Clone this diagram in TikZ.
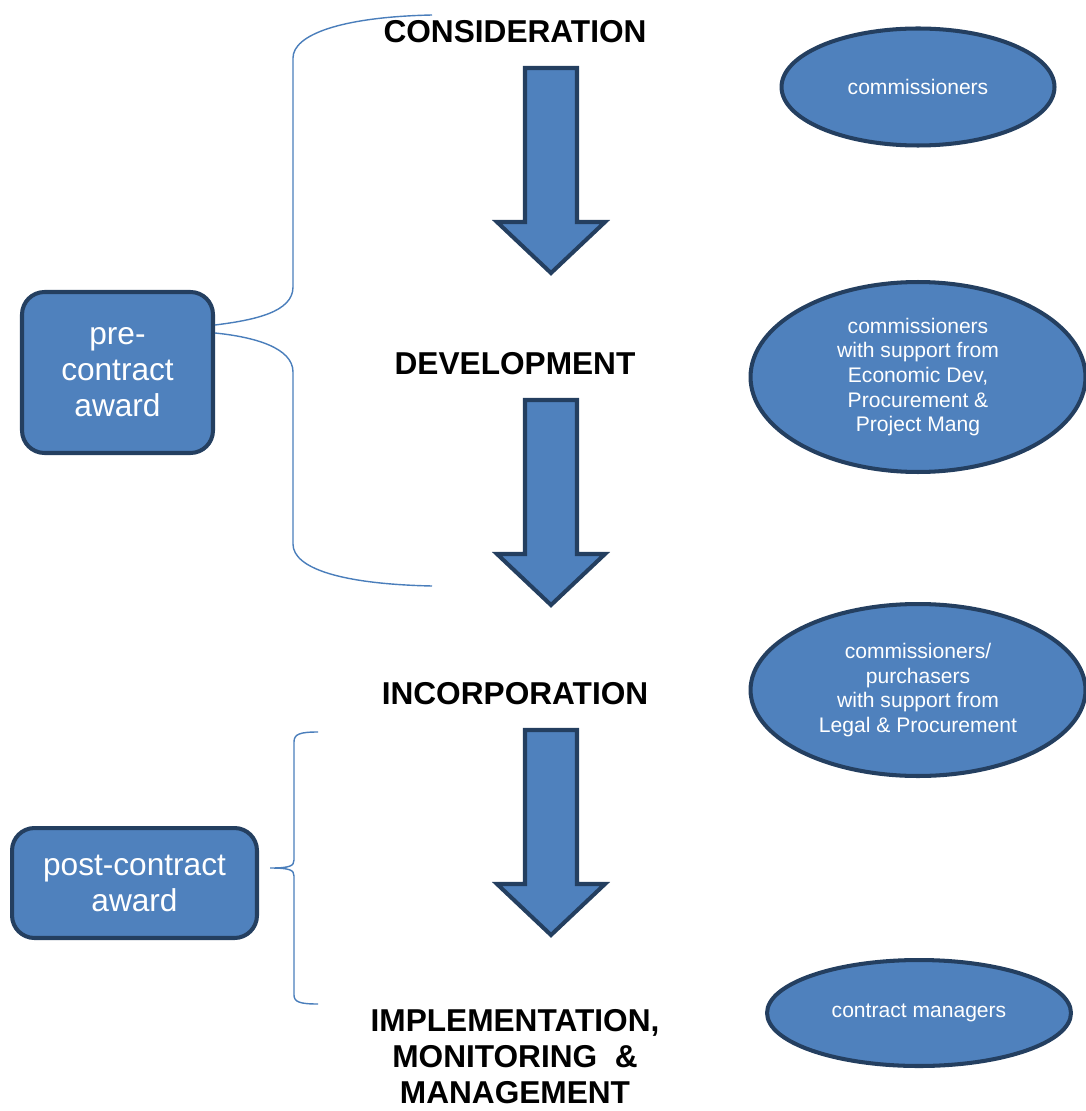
\documentclass[tikz,border=0pt]{standalone}
\usepackage{fontspec}
\setmainfont{Liberation Sans}
\usetikzlibrary{shapes.geometric,positioning}
\definecolor{boxblue}{HTML}{4F81BD}
\definecolor{edgeblue}{HTML}{243F60}
\definecolor{linkblue}{HTML}{4A7EBB}

\begin{document}
\begin{tikzpicture}[x=0.02cm,y=-0.02cm,
   stage/.style={font=\fontsize{18}{20.5}\selectfont\bfseries,align=center,inner sep=0pt},
   party/.style={ellipse,draw=edgeblue,fill=boxblue,line width=2.3pt,text=white,
      inner sep=0pt,align=center,font=\fontsize{12}{14}\selectfont},
   award/.style={rectangle,rounded corners=0.45cm,draw=edgeblue,fill=boxblue,line width=2.3pt,
      text=white,inner sep=0pt,align=center,font=\fontsize{18}{20.5}\selectfont},
   downarrow/.style={draw=edgeblue,fill=boxblue,line width=2.3pt},
   bracelink/.style={draw=linkblue,line width=0.8pt}]
   \useasboundingbox (0,0) rectangle (1085,1111);
   % stages
   \node[stage] (st_1) at (515,32) {CONSIDERATION};
   \node[stage] (st_2) at (515,364) {DEVELOPMENT};
   \node[stage] (st_3) at (515,694) {INCORPORATION};
   \node[stage] (st_4) at (515,1057) {IMPLEMENTATION,\\MONITORING \ \&\\MANAGEMENT};
   \foreach \t in {68,400,730}
      \draw[downarrow] (525,\t) -- (577,\t) -- (577,\t+154) -- (605,\t+154)
         -- (551,\t+205) -- (497,\t+154) -- (525,\t+154) -- cycle;
   % who does it
   \node[party,minimum width=5.46cm,minimum height=2.34cm] (who_1) at (918,87) {commissioners};
   \node[party,minimum width=6.7cm,minimum height=3.8cm] (who_2) at (918,377)
      {commissioners\\with support from\\Economic Dev,\\Procurement \&\\Project Mang};
   \node[party,minimum width=6.7cm,minimum height=3.44cm] (who_3) at (918,690)
      {commissioners/\\purchasers\\with support from\\Legal \& Procurement};
   \node[party,minimum width=6.08cm,minimum height=2.12cm] (who_4) at (919,1013) {contract managers};
   % awards
   \node[award,minimum width=3.82cm,minimum height=3.22cm] (pre) at (117.5,372.5) {pre-\\contract\\award};
   \node[award,minimum width=4.9cm,minimum height=2.2cm] (post) at (134.5,883) {post-contract\\award};
   \coordinate (pre_top) at (432,15);
   \coordinate (pre_bot) at (432,586);
   \coordinate (post_top) at (318,732);
   \coordinate (post_bot) at (318,1004);
   \coordinate (post_tip) at (270,868);
   \draw[bracelink] (pre_top) .. controls (340,17) and (293,35) .. (293,58) -- (293,287)
      .. controls (293,312) and (255,320) .. ([yshift=0.95cm]pre.east);
   \draw[bracelink] ([yshift=0.79cm]pre.east) .. controls (255,337) and (293,348) .. (293,372)
      -- (293,544) .. controls (293,568) and (340,584) .. (pre_bot);
   \draw[bracelink] (post_top) .. controls (300,732) and (294,734) .. (294,742) -- (294,860)
      .. controls (294,866) and (290,868) .. (post_tip)
      .. controls (290,868) and (294,870) .. (294,876) -- (294,995)
      .. controls (294,1002) and (300,1004) .. (post_bot);
\end{tikzpicture}
\end{document}
